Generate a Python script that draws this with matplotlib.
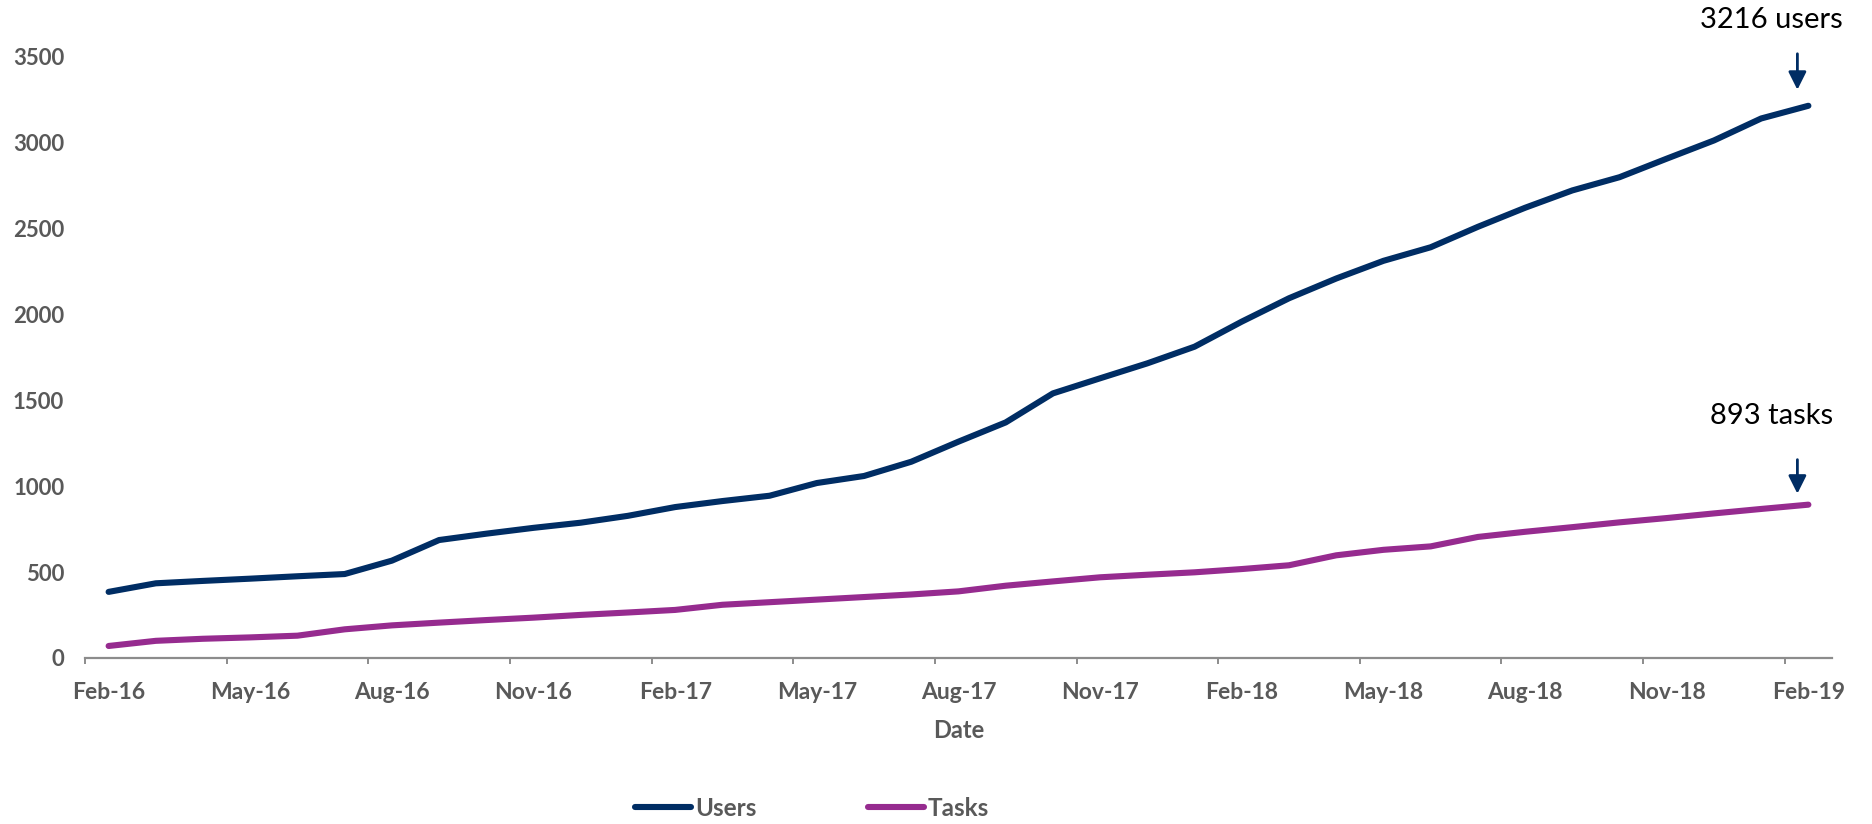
import matplotlib
matplotlib.use("Agg")
import matplotlib.pyplot as plt
from matplotlib.transforms import offset_copy
import numpy as np

months = ["Feb-16", "Mar-16", "Apr-16", "May-16", "Jun-16", "Jul-16", "Aug-16", "Sep-16",
          "Oct-16", "Nov-16", "Dec-16", "Jan-17", "Feb-17", "Mar-17", "Apr-17", "May-17",
          "Jun-17", "Jul-17", "Aug-17", "Sep-17", "Oct-17", "Nov-17", "Dec-17", "Jan-18",
          "Feb-18", "Mar-18", "Apr-18", "May-18", "Jun-18", "Jul-18", "Aug-18", "Sep-18",
          "Oct-18", "Nov-18", "Dec-18", "Jan-19", "Feb-19"]

users = [385, 435, 449, 462, 476, 489, 567, 687, 724, 758, 788, 828, 879, 914, 945, 1019,
         1060, 1143, 1260, 1372, 1541, 1629, 1716, 1813, 1959, 2095, 2210, 2313, 2392, 2511,
         2622, 2723, 2800, 2908, 3014, 3142, 3216]

tasks = [70, 100, 112, 120, 130, 167, 190, 206, 221, 235, 251, 265, 280, 310, 325, 340,
         355, 370, 388, 421, 446, 470, 485, 499, 518, 540, 598, 630, 650, 705, 735, 762,
         790, 815, 842, 868, 893]

yticks = [0, 500, 1000, 1500, 2000, 2500, 3000, 3500]

USERS_C = "#002D64"
TASKS_C = "#962B8F"
GRAY = "#595959"
AXIS_C = "#8C8C8C"
FONT = ["Lato", "DejaVu Sans"]

plt.rcParams["font.family"] = FONT

fig = plt.figure(figsize=(18.72, 8.24), dpi=100)
ax = fig.add_axes([85 / 1872, 1 - 658 / 824, (1832 - 85) / 1872, (658 - 57) / 824])

x = np.arange(len(months))
l1, = ax.plot(x, users, color=USERS_C, lw=4.4, solid_capstyle="round",
              solid_joinstyle="round", label="Users")
l2, = ax.plot(x, tasks, color=TASKS_C, lw=4.4, solid_capstyle="round",
              solid_joinstyle="round", label="Tasks")

ax.set_xlim(-0.5, len(months) - 0.5)
ax.set_ylim(0, 3500)

for s in ["top", "right", "left"]:
    ax.spines[s].set_visible(False)
ax.spines["bottom"].set_color(AXIS_C)
ax.spines["bottom"].set_linewidth(1.6)

ax.set_yticks(yticks)
ax.set_yticklabels([str(v) for v in yticks])
ax.tick_params(axis="y", length=0, pad=15, labelsize=16, labelcolor=GRAY)

# tick marks at slot boundaries every 3 months, labels centred on the slots
ax.set_xticks(np.arange(0, len(months), 3) - 0.5)
ax.set_xticklabels([])
ax.tick_params(axis="x", which="major", length=4.5, width=1.4, color=AXIS_C, direction="out")
ax.set_xticks(np.arange(0, len(months), 3), minor=True)
ax.set_xticklabels([months[i] for i in range(0, len(months), 3)], minor=True)
ax.tick_params(axis="x", which="minor", length=0, pad=17, labelsize=16.5, labelcolor=GRAY)
for lab in ax.get_xticklabels(minor=True) + ax.get_yticklabels():
    lab.set_fontweight("bold")

fig.text((85 + 1832) / 2 / 1872, 1 - 730 / 824, "Date", ha="center", va="center",
         fontsize=17, fontweight="bold", color=GRAY)

# annotations for the final values (offsets in points; 1 px = 0.72 pt)
last = len(months) - 1
PX = 0.72
for vals, txt, tip_px, tail_px, text_px in [(users, f"{users[-1]} users", 16, 52, 86),
                                            (tasks, f"{tasks[-1]} tasks", 11, 45, 89)]:
    tip_tr = offset_copy(ax.transData, fig=fig, x=-11 * PX, y=tip_px * PX, units="points")
    tail_tr = offset_copy(ax.transData, fig=fig, x=-11 * PX, y=tail_px * PX, units="points")
    ax.annotate("", xy=(last, vals[-1]), xycoords=tip_tr,
                xytext=(last, vals[-1]), textcoords=tail_tr,
                annotation_clip=False,
                arrowprops=dict(arrowstyle="-|>", color=USERS_C, lw=2,
                                mutation_scale=27, shrinkA=0, shrinkB=0))
    ax.annotate(txt, xy=(last, vals[-1]), xycoords="data",
                xytext=(-37 * PX, text_px * PX), textcoords="offset points",
                ha="center", va="center", fontsize=21, color="black",
                annotation_clip=False)

fig.legend(handles=[l1, l2], labels=["Users", "Tasks"], loc="center",
           bbox_to_anchor=(812 / 1872, 1 - 808 / 824), ncol=2, frameon=False,
           handlelength=2.3, handletextpad=0.15, columnspacing=4.6,
           prop={"family": FONT, "weight": "bold", "size": 17.5}, labelcolor=GRAY)

fig.savefig("out.png", dpi=100)
